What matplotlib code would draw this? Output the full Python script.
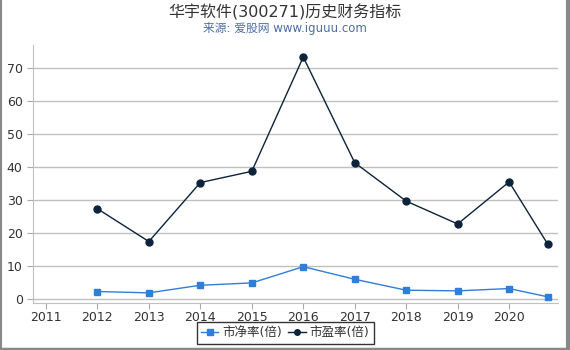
"""Recreate the 华宇软件 historical PB / PE chart."""

import matplotlib

matplotlib.use("Agg")
import matplotlib.pyplot as plt
from matplotlib.lines import Line2D

plt.rcParams["font.family"] = ["DejaVu Sans", "Noto Sans CJK SC"]

# data
years = [2012, 2013, 2014, 2015, 2016, 2017, 2018, 2019, 2020, 2020.75]
pb = [2.4, 2.0, 4.3, 5.0, 9.9, 6.1, 2.8, 2.6, 3.3, 0.8]
pe = [27.4, 17.5, 35.3, 38.7, 73.2, 41.3, 29.7, 22.8, 35.5, 16.7]
tick_years = list(range(2011, 2021))
y_ticks = [0, 10, 20, 30, 40, 50, 60, 70]

_PB_COLOR = "#2f7ed8"
_PE_COLOR = "#0d233a"
_TEXT = "#333333"

fig = plt.figure(figsize=(5.7, 3.5), dpi=100)
ax = fig.add_axes([0.058, 0.133, 0.921, 0.738])

ax.plot(years, pb, color=_PB_COLOR, marker="s", markersize=5, linewidth=1,
        label="市净率(倍)")
ax.plot(years, pe, color=_PE_COLOR, marker="o", markersize=5, linewidth=1,
        label="市盈率(倍)")

ax.set_xlim(2010.75, 2020.95)
ax.set_ylim(-1.2, 76.8)
ax.set_xticks(tick_years)
ax.set_yticks(y_ticks)
ax.tick_params(axis="both", labelsize=9, colors="#aaaaaa", labelcolor=_TEXT,
               length=4, width=0.8)
ax.tick_params(axis="x", pad=1.5)
ax.yaxis.grid(True, color="#c0c0c0", linewidth=1)
ax.set_axisbelow(True)
for side in ("top", "right"):
    ax.spines[side].set_visible(False)
for side in ("left", "bottom"):
    ax.spines[side].set_color("#c0c0c0")

fig.text(0.5, 0.965, "华宇软件(300271)历史财务指标", ha="center", va="center",
         fontsize=11.5, color=_TEXT)
fig.text(0.5, 0.918, "来源: 爱股网 www.iguuu.com", ha="center", va="center",
         fontsize=8.5, color="#4d6fa3")

leg = fig.legend(loc="lower center", bbox_to_anchor=(0.5, 0.0), ncol=2,
                 fontsize=9, frameon=True, fancybox=False, edgecolor="black",
                 handlelength=1.4, handletextpad=0.3, columnspacing=0.5,
                 borderpad=0.35, markerscale=0.8)
leg.get_frame().set_linewidth(1.0)
for txt in leg.get_texts():
    txt.set_color(_TEXT)

# gray frame around the picture
for xs, ys, lw in (([0.001, 0.001], [0, 1], 1.5),
                   ([0.996, 0.996], [0, 1], 3),
                   ([0, 1], [0.004, 0.004], 2.5)):
    fig.add_artist(Line2D(xs, ys, color="#888888", linewidth=lw,
                          transform=fig.transFigure))

fig.savefig("out.png", dpi=100)
plt.close(fig)
